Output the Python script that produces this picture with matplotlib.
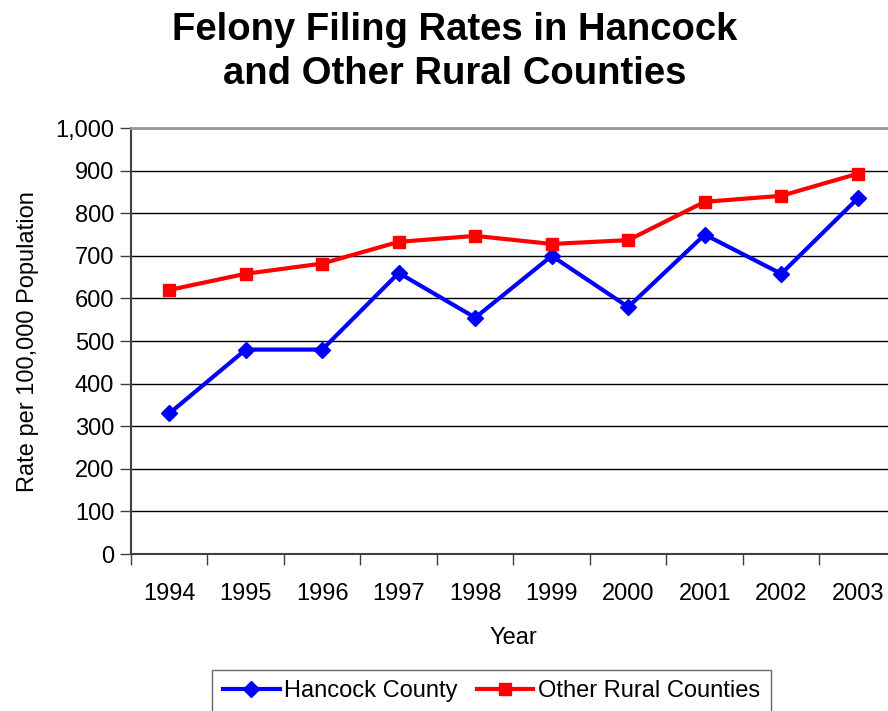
import matplotlib.pyplot as plt
import numpy as np

years = ['1994', '1995', '1996', '1997', '1998', '1999', '2000', '2001', '2002', '2003']
hancock = [330, 480, 480, 660, 555, 700, 580, 750, 658, 835]
other_rural = [620, 658, 682, 733, 747, 728, 737, 827, 841, 893]

plt.rcParams['font.family'] = ['Liberation Sans', 'DejaVu Sans']

fig = plt.figure(figsize=(8.88, 7.11), dpi=100)
ax = fig.add_axes([0.1475, 0.2208, 0.8615, 0.599])

x = np.arange(len(years))
ax.plot(x, hancock, color='#0000ff', lw=3, marker='D', ms=8.5, label='Hancock County')
ax.plot(x, other_rural, color='#ff0000', lw=3, marker='s', ms=9, label='Other Rural Counties')

ax.set_xlim(-0.5, len(years) - 0.5)
ax.set_ylim(0, 1000)
ax.set_yticks(range(0, 1001, 100))
ax.set_yticklabels([f'{v:,}' for v in range(0, 1001, 100)], fontsize=17)
ax.yaxis.grid(True, color='black', lw=1)
ax.set_axisbelow(True)

# category labels centred, tick marks between categories
ax.set_xticks(x)
ax.set_xticklabels(years, fontsize=17)
ax.tick_params(axis='x', length=0, pad=21)
ax.set_xticks(np.arange(-0.5, len(years)), minor=True)
ax.tick_params(axis='x', which='minor', length=8, width=1, color='#404040')
ax.tick_params(axis='y', length=8, width=1, color='#404040', pad=4)

for side in ['left', 'bottom']:
    ax.spines[side].set_color('#404040')
    ax.spines[side].set_linewidth(1.5)
ax.spines['top'].set_color('#999999')
ax.spines['top'].set_linewidth(2)
ax.spines['right'].set_visible(False)

ax.set_xlabel('Year', fontsize=17, labelpad=16)
ax.set_ylabel('Rate per 100,000 Population', fontsize=17, labelpad=12)

fig.text(0.512, 0.927, 'Felony Filing Rates in Hancock\nand Other Rural Counties',
         ha='center', va='center', fontsize=27.5, fontweight='bold', linespacing=1.27)

leg = fig.legend(loc='upper left', bbox_to_anchor=(0.239, 0.058), ncol=2, fontsize=17,
                 frameon=True, fancybox=False, edgecolor='#404040', handlelength=2.4,
                 handletextpad=0.2, columnspacing=0.8, borderpad=0.45, borderaxespad=0)
leg.get_frame().set_linewidth(1)

fig.savefig('out.png', dpi=100)
